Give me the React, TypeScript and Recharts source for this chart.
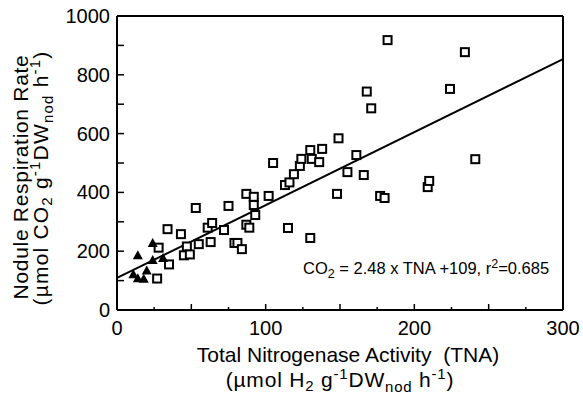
import { ScatterChart, Scatter, XAxis, YAxis, ReferenceLine } from "recharts";

// open squares
const tnaSquares = [
  27, 28, 34, 35, 43, 47, 45, 49, 53, 55, 61, 63, 64, 72, 75, 79, 81, 84, 87, 89,
  87, 92, 92, 93, 102, 105, 113, 116, 119, 123, 124, 131, 130, 138, 136, 115, 130,
  148, 149, 155, 161, 166, 168, 171, 177, 180, 182, 209, 210, 224, 234, 241,
];
const respSquares = [
  107, 212, 275, 155, 258, 216, 186, 189, 347, 224, 280, 231, 296, 272, 354, 228, 228, 207, 290, 280,
  395, 385, 357, 323, 388, 500, 425, 434, 462, 490, 514, 514, 544, 548, 503, 279, 245,
  395, 584, 469, 527, 459, 743, 686, 388, 381, 918, 418, 439, 752, 877, 513,
];

// filled triangles
const tnaTriangles = [11, 14, 14, 18, 20, 24, 24, 31];
const respTriangles = [122, 186, 108, 106, 134, 228, 170, 177];

// regression line CO2 = 2.48 x TNA + 109
const fitLine = [
  { x: 0, y: 109 },
  { x: 300, y: 853 },
];

const xTicks = [0, 25, 50, 75, 100, 125, 150, 175, 200, 225, 250, 275, 300];
const yTicks = [0, 100, 200, 300, 400, 500, 600, 700, 800, 900, 1000];

const squareData = tnaSquares.map((x, i) => ({ x, y: respSquares[i] }));
const triangleData = tnaTriangles.map((x, i) => ({ x, y: respTriangles[i] }));

const FONT = "'Liberation Sans', Arial, Helvetica, sans-serif";

const OpenSquare = (props: any) => {
  const { cx, cy } = props;
  return <rect x={cx - 4} y={cy - 4} width={8} height={8} fill="#fff" stroke="#000" strokeWidth={2} />;
};

const Triangle = (props: any) => {
  const { cx, cy } = props;
  return <polygon points={`${cx},${cy - 5} ${cx - 5},${cy + 4} ${cx + 5},${cy + 4}`} fill="#000" />;
};

const XTick = (props: any) => {
  const { x, y, payload } = props;
  const v = payload.value;
  const len = v % 50 === 0 ? 6 : 3;
  return (
    <g>
      <line x1={x} x2={x} y1={y} y2={y - len} stroke="#000" strokeWidth={1.5} />
      {v % 100 === 0 && (
        <text x={x} y={y + 25} textAnchor="middle" fontSize={20} fontFamily={FONT} fill="#000">
          {v}
        </text>
      )}
    </g>
  );
};

const YTick = (props: any) => {
  const { x, y, payload } = props;
  const v = payload.value;
  return (
    <g>
      <line x1={x} x2={x + 7} y1={y} y2={y} stroke="#000" strokeWidth={1.5} />
      {v % 200 === 0 && (
        <text x={x - 7} y={y + 7} textAnchor="end" fontSize={20} fontFamily={FONT} fill="#000">
          {v}
        </text>
      )}
    </g>
  );
};

export default function App() {
  return (
    <div style={{ position: "absolute", left: 0, top: 0, background: "#fff" }}>
      <ScatterChart width={583} height={401} margin={{ top: 16, right: 20, bottom: 61, left: 57 }}>
        <XAxis
          type="number"
          dataKey="x"
          domain={[0, 300]}
          ticks={xTicks}
          interval={0}
          height={30}
          tickSize={0}
          tickMargin={0}
          tickLine={false}
          tick={<XTick />}
          axisLine={{ stroke: "#000", strokeWidth: 2 }}
        />
        <YAxis
          type="number"
          dataKey="y"
          domain={[0, 1000]}
          ticks={yTicks}
          interval={0}
          width={60}
          tickSize={0}
          tickMargin={0}
          tickLine={false}
          tick={<YTick />}
          axisLine={{ stroke: "#000", strokeWidth: 2 }}
        />
        <ReferenceLine y={1000} stroke="#000" strokeWidth={2} />
        <ReferenceLine x={300} stroke="#000" strokeWidth={2} />
        <ReferenceLine segment={fitLine} stroke="#000" strokeWidth={2} />
        <Scatter data={squareData} shape={<OpenSquare />} isAnimationActive={false} />
        <Scatter data={triangleData} shape={<Triangle />} isAnimationActive={false} />

        <text x={303} y={274} fontSize={16.5} fontFamily={FONT} fill="#000">
          <tspan>CO</tspan>
          <tspan dy={4} fontSize={12.5}>2</tspan>
          <tspan dy={-4}> = 2.48 x TNA +109, r</tspan>
          <tspan dy={-6} fontSize={12.5}>2</tspan>
          <tspan dy={6}>=0.685</tspan>
        </text>

        <text x={348} y={362} textAnchor="middle" fontSize={21} fontFamily={FONT} fill="#000">
          Total Nitrogenase Activity {"\u00a0"}(TNA)
        </text>
        <text x={340} y={387} textAnchor="middle" fontSize={21} letterSpacing={0.8} fontFamily={FONT} fill="#000">
          <tspan>(µmol H</tspan>
          <tspan dy={4} fontSize={15}>2</tspan>
          <tspan dy={-4}> g</tspan>
          <tspan dy={-8} fontSize={15}>-1</tspan>
          <tspan dy={8}>DW</tspan>
          <tspan dy={5} fontSize={15}>nod</tspan>
          <tspan dy={-5}> h</tspan>
          <tspan dy={-8} fontSize={15}>-1</tspan>
          <tspan dy={8}>)</tspan>
        </text>

        <text x={28} y={177} transform="rotate(-90, 28, 177)" textAnchor="middle" fontSize={21} letterSpacing={0.7} fontFamily={FONT} fill="#000">
          Nodule Respiration Rate
        </text>
        <text x={48} y={178} transform="rotate(-90, 48, 178)" textAnchor="middle" fontSize={21} letterSpacing={1.2} fontFamily={FONT} fill="#000">
          <tspan>(µmol CO</tspan>
          <tspan dy={4} fontSize={15}>2</tspan>
          <tspan dy={-4}> g</tspan>
          <tspan dy={-8} fontSize={15}>-1</tspan>
          <tspan dy={8}>DW</tspan>
          <tspan dy={5} fontSize={15}>nod</tspan>
          <tspan dy={-5}> h</tspan>
          <tspan dy={-8} fontSize={15}>-1</tspan>
          <tspan dy={8}>)</tspan>
        </text>
      </ScatterChart>
    </div>
  );
}
